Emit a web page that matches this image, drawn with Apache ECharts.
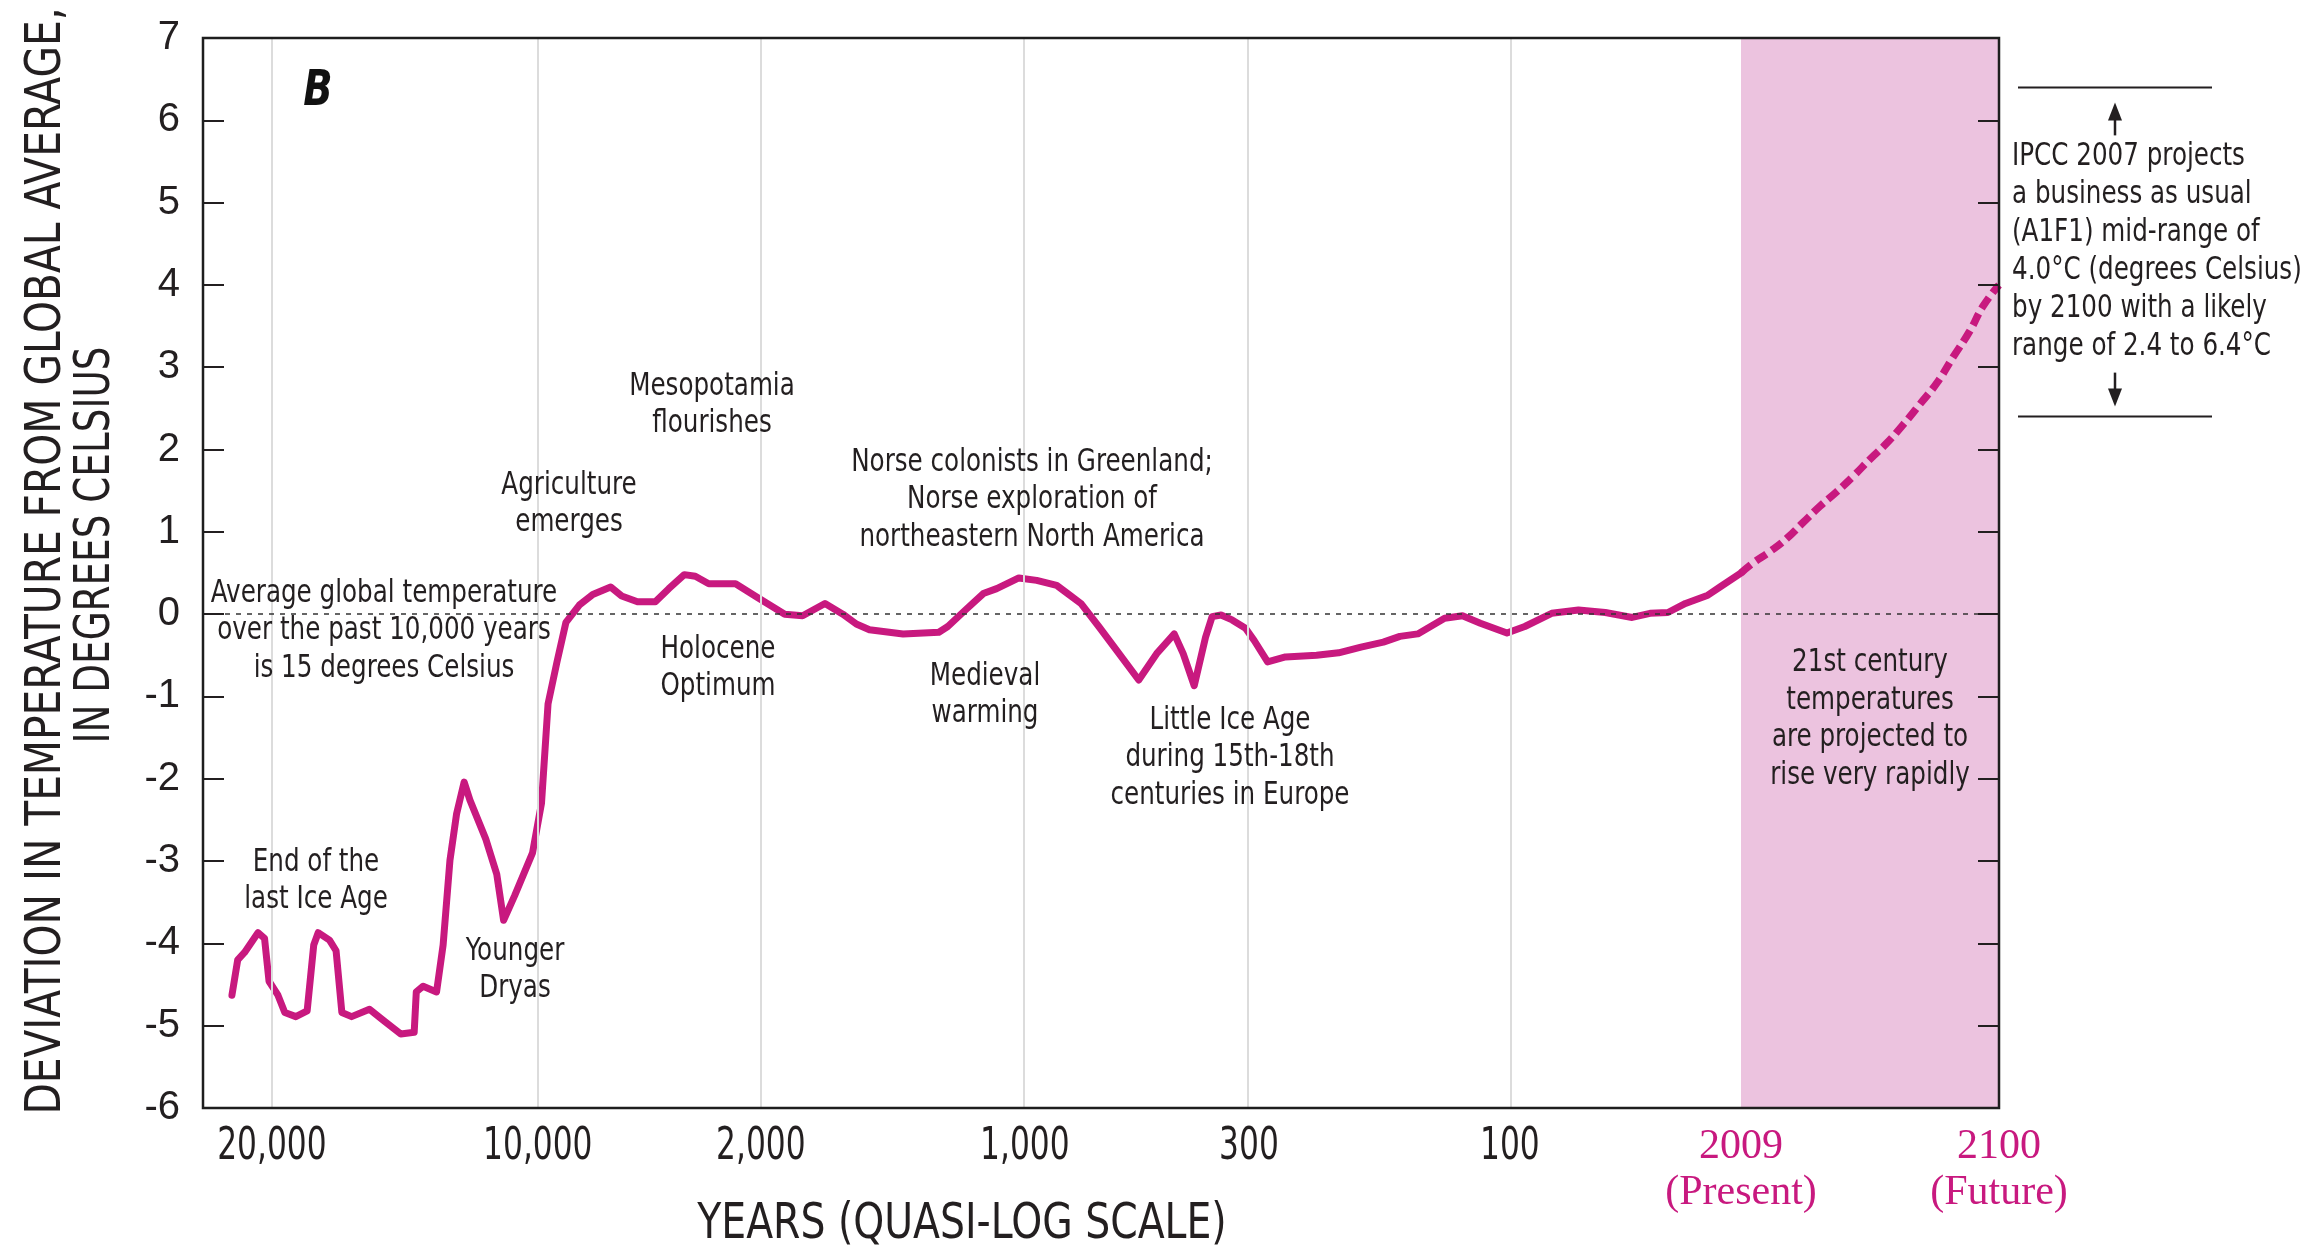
<!DOCTYPE html>
<html>
<head>
<meta charset="utf-8">
<title>Temperature deviation over the past 20,000 years</title>
<script src="https://cdn.jsdelivr.net/npm/echarts@6/dist/echarts.min.js"></script>
<style>
  html, body { margin: 0; padding: 0; background: #ffffff; }
  #chart { width: 2316px; height: 1250px; }
</style>
</head>
<body>
<div id="chart"></div>
<script>
// Positions along the quasi-log time scale (one unit is roughly one labelled step)
const tickPos  = [0, 1.011, 1.859, 2.863, 3.715, 4.707, 5.586, 6.567];
const tickText = ['20,000', '10,000', '2,000', '1,000', '300', '100', '2009', '2100'];
const tickNote = ['', '', '', '', '', '', '(Present)', '(Future)'];
const gridPos  = tickPos.slice(0, 6);

// Reconstructed temperature deviation (°C from the 10,000-year mean)
const obsPos = [
  -0.152, -0.130, -0.104, -0.053, -0.028, -0.011, 0.023, 0.049, 0.091, 0.134,
  0.159, 0.176, 0.219, 0.244, 0.266, 0.303, 0.371, 0.422, 0.490, 0.541,
  0.549, 0.575, 0.626, 0.651, 0.677, 0.702, 0.731, 0.753, 0.813, 0.855,
  0.881, 0.923, 0.991, 1.025, 1.050, 1.084, 1.118, 1.169, 1.220, 1.288,
  1.330, 1.390, 1.458, 1.509, 1.568, 1.610, 1.661, 1.763, 1.848, 1.950,
  2.018, 2.103, 2.171, 2.222, 2.272, 2.400, 2.536, 2.570, 2.637, 2.705,
  2.756, 2.840, 2.908, 2.984, 3.026, 3.076, 3.144, 3.212, 3.296, 3.364,
  3.431, 3.465, 3.507, 3.550, 3.575, 3.609, 3.651, 3.702, 3.735, 3.786,
  3.854, 3.972, 4.056, 4.141, 4.226, 4.289, 4.357, 4.459, 4.527, 4.595,
  4.696, 4.764, 4.866, 4.968, 5.070, 5.172, 5.240, 5.308, 5.375, 5.460,
  5.506, 5.586
];
const obsDev = [
  -4.63, -4.20, -4.11, -3.87, -3.94, -4.46, -4.63, -4.84, -4.89, -4.82,
  -4.02, -3.87, -3.96, -4.09, -4.84, -4.89, -4.80, -4.93, -5.10, -5.08,
  -4.59, -4.52, -4.59, -4.02, -2.99, -2.43, -2.04, -2.26, -2.73, -3.16,
  -3.72, -3.42, -2.90, -2.30, -1.09, -0.58, -0.10, 0.11, 0.24, 0.33,
  0.22, 0.15, 0.15, 0.31, 0.48, 0.46, 0.37, 0.37, 0.20, 0.00,
  -0.02, 0.13, 0.00, -0.12, -0.19, -0.24, -0.22, -0.15, 0.05, 0.25,
  0.31, 0.44, 0.41, 0.35, 0.25, 0.13, -0.15, -0.44, -0.80, -0.48,
  -0.24, -0.48, -0.87, -0.28, -0.03, -0.01, -0.07, -0.17, -0.32, -0.58,
  -0.52, -0.50, -0.47, -0.40, -0.34, -0.27, -0.24, -0.05, -0.02, -0.11,
  -0.23, -0.15, 0.01, 0.05, 0.02, -0.04, 0.01, 0.02, 0.13, 0.23,
  0.33, 0.50
];

// IPCC 2007 A1FI projection for the 21st century
const projPos = [5.586, 5.631, 5.696, 5.760, 5.821, 5.886, 5.951, 6.011, 6.076,
                 6.141, 6.202, 6.266, 6.331, 6.392, 6.456, 6.506, 6.567];
const projDev = [0.50, 0.62, 0.76, 0.92, 1.11, 1.31, 1.49, 1.67, 1.88,
                 2.08, 2.30, 2.55, 2.81, 3.12, 3.44, 3.74, 4.00];
const likelyRange = [2.4, 6.4];

const LINE = '#c8197f';
const PINK = '#ecc3df';
const INK  = '#231f20';
const COND = '"DejaVu Sans Condensed", "DejaVu Sans", sans-serif';
const SERIF = '"Liberation Serif", "DejaVu Serif", serif';
const NARROW_X = 0.855;   // horizontal squeeze that gives the condensed lettering

const zip = (xs, ys) => xs.map((x, i) => [x, ys[i]]);

const chart = echarts.init(document.getElementById('chart'));

const yAxisBase = {
  type: 'value', min: -6, max: 7, interval: 1, z: 6,
  axisLine: { show: false, onZero: false },
  splitLine: { show: false },
  axisTick: { show: true, inside: true, length: 21, lineStyle: { color: INK, width: 2 } }
};

chart.setOption({
  animation: false,
  backgroundColor: '#ffffff',
  grid: {
    left: 203, right: 317, top: 38, bottom: 142,
    show: true, z: 8, borderColor: '#1e1e1e', borderWidth: 2.5,
    backgroundColor: 'transparent'
  },
  xAxis: {
    type: 'value', min: -0.262, max: 6.567,
    axisLine: { show: false, onZero: false },
    axisTick: { show: false },
    splitLine: { show: false },
    axisLabel: { show: false }
  },
  yAxis: [
    Object.assign({}, yAxisBase, {
      position: 'left',
      axisLabel: { margin: 23, fontFamily: '"Liberation Sans", Arial, sans-serif', fontSize: 40, color: INK }
    }),
    Object.assign({}, yAxisBase, { position: 'right', axisLabel: { show: false } })
  ],
  series: [
    {
      // background layer: 21st-century band, time gridlines, 10,000-year mean
      type: 'line', data: [], z: 1, silent: true,
      markArea: {
        silent: true,
        itemStyle: { color: PINK, opacity: 1 },
        data: [[{ xAxis: tickPos[6] }, { xAxis: tickPos[7] }]]
      },
      markLine: {
        silent: true, symbol: 'none',
        label: { show: false },
        data: gridPos.map(p => ({ xAxis: p, lineStyle: { color: '#dcdcdc', width: 2, type: 'solid' } }))
          .concat([{ yAxis: 0, lineStyle: { color: '#333333', width: 1.6, type: [5, 6] } }])
      }
    },
    {
      name: 'Reconstructed', type: 'line', z: 4,
      data: zip(obsPos, obsDev),
      showSymbol: false, smooth: false,
      lineStyle: { color: LINE, width: 7, cap: 'round', join: 'round' }
    },
    {
      name: 'Projected', type: 'line', z: 4,
      data: zip(projPos, projDev),
      showSymbol: false, smooth: true,
      lineStyle: { color: LINE, width: 7.5, type: [13, 6] }
    }
  ]
});

// Text in the condensed face, squeezed about its anchor point
function note(x, y, text, extra, elProps) {
  return Object.assign({
    type: 'text', x: x, y: y, z: 20, scaleX: NARROW_X,
    style: Object.assign({
      text: text, fill: INK, fontFamily: COND, fontSize: 32, lineHeight: 37.5,
      align: 'center', verticalAlign: 'middle'
    }, extra || {})
  }, elProps || {});
}

// Time-axis labels placed at the axis positions
const tickLabels = tickPos.map((p, i) => {
  const x = chart.convertToPixel({ xAxisIndex: 0 }, p);
  if (tickNote[i]) {
    return {
      type: 'text', x: x, y: 1124, z: 20,
      style: {
        text: tickText[i] + '\n' + tickNote[i], fill: LINE, fontFamily: SERIF,
        fontSize: 42, lineHeight: 46, align: 'center', verticalAlign: 'top'
      }
    };
  }
  return {
    type: 'text', x: x, y: 1124, z: 20, scaleX: 0.79,
    style: {
      text: tickText[i], fill: INK, fontFamily: COND,
      fontSize: 44, lineHeight: 48, align: 'center', verticalAlign: 'top'
    }
  };
});

// Likely-range bracket beside the 2100 end point
const yLo = chart.convertToPixel({ yAxisIndex: 0 }, likelyRange[0]);
const yHi = chart.convertToPixel({ yAxisIndex: 0 }, likelyRange[1]);
const arrowX = 2115;
const bracket = [
  { type: 'line', z: 20, shape: { x1: 2018, y1: yHi, x2: 2212, y2: yHi }, style: { stroke: INK, lineWidth: 2 } },
  { type: 'line', z: 20, shape: { x1: 2018, y1: yLo, x2: 2212, y2: yLo }, style: { stroke: INK, lineWidth: 2 } },
  { type: 'line', z: 20, shape: { x1: arrowX, y1: yHi + 48, x2: arrowX, y2: yHi + 30 }, style: { stroke: INK, lineWidth: 2.5 } },
  { type: 'polygon', z: 20, shape: { points: [[arrowX, yHi + 15], [arrowX - 7, yHi + 33], [arrowX + 7, yHi + 33]] }, style: { fill: INK } },
  { type: 'line', z: 20, shape: { x1: arrowX, y1: yLo - 44, x2: arrowX, y2: yLo - 26 }, style: { stroke: INK, lineWidth: 2.5 } },
  { type: 'polygon', z: 20, shape: { points: [[arrowX, yLo - 10], [arrowX - 7, yLo - 28], [arrowX + 7, yLo - 28]] }, style: { fill: INK } }
];

chart.setOption({
  graphic: tickLabels.concat(bracket, [
    // axis titles
    note(47, 561, 'DEVIATION IN TEMPERATURE FROM GLOBAL AVERAGE,', { fontSize: 50 }, { rotation: Math.PI / 2, scaleX: 0.905 }),
    note(96, 545, 'IN DEGREES CELSIUS', { fontSize: 50 }, { rotation: Math.PI / 2, scaleX: 0.83 }),
    note(962, 1225, 'YEARS (QUASI-LOG SCALE)', { fontSize: 50 }, { scaleX: 0.875 }),
    note(318, 92, 'B', { fontSize: 50, fontWeight: 'bold', fontStyle: 'italic', fill: '#111' }),

    // event labels
    note(712, 405, 'Mesopotamia\nflourishes'),
    note(569, 504, 'Agriculture\nemerges'),
    note(1032, 500, 'Norse colonists in Greenland;\nNorse exploration of\nnortheastern North America'),
    note(384, 631, 'Average global temperature\nover the past 10,000 years\nis 15 degrees Celsius'),
    note(718, 668, 'Holocene\nOptimum'),
    note(985, 695, 'Medieval\nwarming'),
    note(1230, 758, 'Little Ice Age\nduring 15th-18th\ncenturies in Europe'),
    note(316, 881, 'End of the\nlast Ice Age'),
    note(515, 970, 'Younger\nDryas'),
    note(1870, 719, '21st century\ntemperatures\nare projected to\nrise very rapidly'),
    note(2012, 252,
      'IPCC 2007 projects\na business as usual\n(A1F1) mid-range of\n4.0°C (degrees Celsius)\nby 2100 with a likely\nrange of 2.4 to 6.4°C',
      { align: 'left', lineHeight: 38 })
  ])
});
</script>
</body>
</html>
